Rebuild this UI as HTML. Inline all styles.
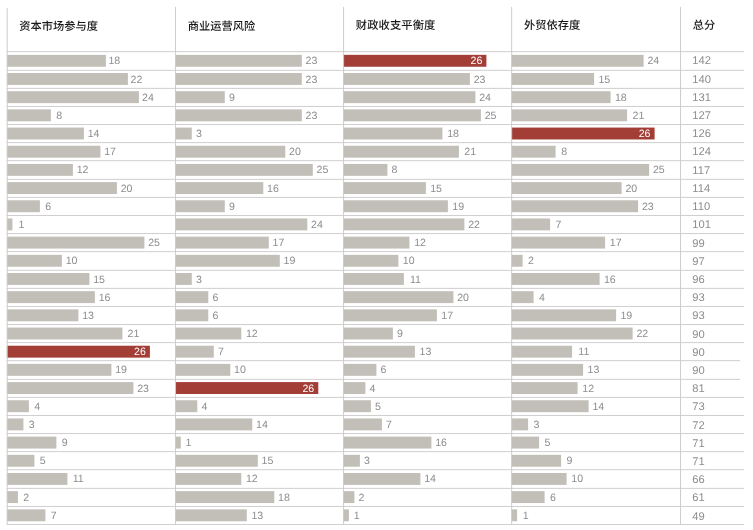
<!DOCTYPE html>
<html lang="zh-CN">
<head>
<meta charset="utf-8">
<title>排名</title>
<style>
html,body{margin:0;padding:0;background:#fff;}
body{width:753px;height:530px;overflow:hidden;}
svg{display:block;}
text{text-rendering:geometricPrecision;}
.n.t{font-size:11.2px;}
.h{font-family:"Liberation Sans","Noto Sans CJK SC",sans-serif;font-size:11.25px;font-weight:500;fill:#1a1a1a;}
.n{font-family:"Liberation Sans","Noto Sans CJK SC",sans-serif;font-size:10.6px;fill:#8d8d8d;}
.w{font-family:"Liberation Sans","Noto Sans CJK SC",sans-serif;font-size:10.6px;fill:#fff;text-anchor:end;}
</style>
</head>
<body>
<svg width="753" height="530" viewBox="0 0 753 530">
<rect x="0" y="0" width="753" height="530" fill="#ffffff"/>
<rect x="6.90" y="54.85" width="99.00" height="11.90" fill="#c2beb8"/>
<rect x="6.90" y="73.03" width="121.00" height="11.90" fill="#c2beb8"/>
<rect x="6.90" y="91.21" width="132.00" height="11.90" fill="#c2beb8"/>
<rect x="6.90" y="109.39" width="44.00" height="11.90" fill="#c2beb8"/>
<rect x="6.90" y="127.57" width="77.00" height="11.90" fill="#c2beb8"/>
<rect x="6.90" y="145.75" width="93.50" height="11.90" fill="#c2beb8"/>
<rect x="6.90" y="163.93" width="66.00" height="11.90" fill="#c2beb8"/>
<rect x="6.90" y="182.11" width="110.00" height="11.90" fill="#c2beb8"/>
<rect x="6.90" y="200.29" width="33.00" height="11.90" fill="#c2beb8"/>
<rect x="6.90" y="218.47" width="5.50" height="11.90" fill="#c2beb8"/>
<rect x="6.90" y="236.65" width="137.50" height="11.90" fill="#c2beb8"/>
<rect x="6.90" y="254.83" width="55.00" height="11.90" fill="#c2beb8"/>
<rect x="6.90" y="273.01" width="82.50" height="11.90" fill="#c2beb8"/>
<rect x="6.90" y="291.19" width="88.00" height="11.90" fill="#c2beb8"/>
<rect x="6.90" y="309.37" width="71.50" height="11.90" fill="#c2beb8"/>
<rect x="6.90" y="327.55" width="115.50" height="11.90" fill="#c2beb8"/>
<rect x="6.90" y="345.73" width="143.00" height="11.90" fill="#a33e37"/>
<rect x="6.90" y="363.91" width="104.50" height="11.90" fill="#c2beb8"/>
<rect x="6.90" y="382.09" width="126.50" height="11.90" fill="#c2beb8"/>
<rect x="6.90" y="400.27" width="22.00" height="11.90" fill="#c2beb8"/>
<rect x="6.90" y="418.45" width="16.50" height="11.90" fill="#c2beb8"/>
<rect x="6.90" y="436.63" width="49.50" height="11.90" fill="#c2beb8"/>
<rect x="6.90" y="454.81" width="27.50" height="11.90" fill="#c2beb8"/>
<rect x="6.90" y="472.99" width="60.50" height="11.90" fill="#c2beb8"/>
<rect x="6.90" y="491.17" width="11.00" height="11.90" fill="#c2beb8"/>
<rect x="6.90" y="509.35" width="38.50" height="11.90" fill="#c2beb8"/>
<rect x="175.28" y="54.85" width="126.50" height="11.90" fill="#c2beb8"/>
<rect x="175.28" y="73.03" width="126.50" height="11.90" fill="#c2beb8"/>
<rect x="175.28" y="91.21" width="49.50" height="11.90" fill="#c2beb8"/>
<rect x="175.28" y="109.39" width="126.50" height="11.90" fill="#c2beb8"/>
<rect x="175.28" y="127.57" width="16.50" height="11.90" fill="#c2beb8"/>
<rect x="175.28" y="145.75" width="110.00" height="11.90" fill="#c2beb8"/>
<rect x="175.28" y="163.93" width="137.50" height="11.90" fill="#c2beb8"/>
<rect x="175.28" y="182.11" width="88.00" height="11.90" fill="#c2beb8"/>
<rect x="175.28" y="200.29" width="49.50" height="11.90" fill="#c2beb8"/>
<rect x="175.28" y="218.47" width="132.00" height="11.90" fill="#c2beb8"/>
<rect x="175.28" y="236.65" width="93.50" height="11.90" fill="#c2beb8"/>
<rect x="175.28" y="254.83" width="104.50" height="11.90" fill="#c2beb8"/>
<rect x="175.28" y="273.01" width="16.50" height="11.90" fill="#c2beb8"/>
<rect x="175.28" y="291.19" width="33.00" height="11.90" fill="#c2beb8"/>
<rect x="175.28" y="309.37" width="33.00" height="11.90" fill="#c2beb8"/>
<rect x="175.28" y="327.55" width="66.00" height="11.90" fill="#c2beb8"/>
<rect x="175.28" y="345.73" width="38.50" height="11.90" fill="#c2beb8"/>
<rect x="175.28" y="363.91" width="55.00" height="11.90" fill="#c2beb8"/>
<rect x="175.28" y="382.09" width="143.00" height="11.90" fill="#a33e37"/>
<rect x="175.28" y="400.27" width="22.00" height="11.90" fill="#c2beb8"/>
<rect x="175.28" y="418.45" width="77.00" height="11.90" fill="#c2beb8"/>
<rect x="175.28" y="436.63" width="5.50" height="11.90" fill="#c2beb8"/>
<rect x="175.28" y="454.81" width="82.50" height="11.90" fill="#c2beb8"/>
<rect x="175.28" y="472.99" width="66.00" height="11.90" fill="#c2beb8"/>
<rect x="175.28" y="491.17" width="99.00" height="11.90" fill="#c2beb8"/>
<rect x="175.28" y="509.35" width="71.50" height="11.90" fill="#c2beb8"/>
<rect x="343.40" y="54.85" width="143.00" height="11.90" fill="#a33e37"/>
<rect x="343.40" y="73.03" width="126.50" height="11.90" fill="#c2beb8"/>
<rect x="343.40" y="91.21" width="132.00" height="11.90" fill="#c2beb8"/>
<rect x="343.40" y="109.39" width="137.50" height="11.90" fill="#c2beb8"/>
<rect x="343.40" y="127.57" width="99.00" height="11.90" fill="#c2beb8"/>
<rect x="343.40" y="145.75" width="115.50" height="11.90" fill="#c2beb8"/>
<rect x="343.40" y="163.93" width="44.00" height="11.90" fill="#c2beb8"/>
<rect x="343.40" y="182.11" width="82.50" height="11.90" fill="#c2beb8"/>
<rect x="343.40" y="200.29" width="104.50" height="11.90" fill="#c2beb8"/>
<rect x="343.40" y="218.47" width="121.00" height="11.90" fill="#c2beb8"/>
<rect x="343.40" y="236.65" width="66.00" height="11.90" fill="#c2beb8"/>
<rect x="343.40" y="254.83" width="55.00" height="11.90" fill="#c2beb8"/>
<rect x="343.40" y="273.01" width="60.50" height="11.90" fill="#c2beb8"/>
<rect x="343.40" y="291.19" width="110.00" height="11.90" fill="#c2beb8"/>
<rect x="343.40" y="309.37" width="93.50" height="11.90" fill="#c2beb8"/>
<rect x="343.40" y="327.55" width="49.50" height="11.90" fill="#c2beb8"/>
<rect x="343.40" y="345.73" width="71.50" height="11.90" fill="#c2beb8"/>
<rect x="343.40" y="363.91" width="33.00" height="11.90" fill="#c2beb8"/>
<rect x="343.40" y="382.09" width="22.00" height="11.90" fill="#c2beb8"/>
<rect x="343.40" y="400.27" width="27.50" height="11.90" fill="#c2beb8"/>
<rect x="343.40" y="418.45" width="38.50" height="11.90" fill="#c2beb8"/>
<rect x="343.40" y="436.63" width="88.00" height="11.90" fill="#c2beb8"/>
<rect x="343.40" y="454.81" width="16.50" height="11.90" fill="#c2beb8"/>
<rect x="343.40" y="472.99" width="77.00" height="11.90" fill="#c2beb8"/>
<rect x="343.40" y="491.17" width="11.00" height="11.90" fill="#c2beb8"/>
<rect x="343.40" y="509.35" width="5.50" height="11.90" fill="#c2beb8"/>
<rect x="511.60" y="54.85" width="132.00" height="11.90" fill="#c2beb8"/>
<rect x="511.60" y="73.03" width="82.50" height="11.90" fill="#c2beb8"/>
<rect x="511.60" y="91.21" width="99.00" height="11.90" fill="#c2beb8"/>
<rect x="511.60" y="109.39" width="115.50" height="11.90" fill="#c2beb8"/>
<rect x="511.60" y="127.57" width="143.00" height="11.90" fill="#a33e37"/>
<rect x="511.60" y="145.75" width="44.00" height="11.90" fill="#c2beb8"/>
<rect x="511.60" y="163.93" width="137.50" height="11.90" fill="#c2beb8"/>
<rect x="511.60" y="182.11" width="110.00" height="11.90" fill="#c2beb8"/>
<rect x="511.60" y="200.29" width="126.50" height="11.90" fill="#c2beb8"/>
<rect x="511.60" y="218.47" width="38.50" height="11.90" fill="#c2beb8"/>
<rect x="511.60" y="236.65" width="93.50" height="11.90" fill="#c2beb8"/>
<rect x="511.60" y="254.83" width="11.00" height="11.90" fill="#c2beb8"/>
<rect x="511.60" y="273.01" width="88.00" height="11.90" fill="#c2beb8"/>
<rect x="511.60" y="291.19" width="22.00" height="11.90" fill="#c2beb8"/>
<rect x="511.60" y="309.37" width="104.50" height="11.90" fill="#c2beb8"/>
<rect x="511.60" y="327.55" width="121.00" height="11.90" fill="#c2beb8"/>
<rect x="511.60" y="345.73" width="60.50" height="11.90" fill="#c2beb8"/>
<rect x="511.60" y="363.91" width="71.50" height="11.90" fill="#c2beb8"/>
<rect x="511.60" y="382.09" width="66.00" height="11.90" fill="#c2beb8"/>
<rect x="511.60" y="400.27" width="77.00" height="11.90" fill="#c2beb8"/>
<rect x="511.60" y="418.45" width="16.50" height="11.90" fill="#c2beb8"/>
<rect x="511.60" y="436.63" width="27.50" height="11.90" fill="#c2beb8"/>
<rect x="511.60" y="454.81" width="49.50" height="11.90" fill="#c2beb8"/>
<rect x="511.60" y="472.99" width="55.00" height="11.90" fill="#c2beb8"/>
<rect x="511.60" y="491.17" width="33.00" height="11.90" fill="#c2beb8"/>
<rect x="511.60" y="509.35" width="5.50" height="11.90" fill="#c2beb8"/>
<rect x="6.70" y="51.14" width="737.30" height="1.00" fill="#cfcfcf"/>
<rect x="6.70" y="69.81" width="737.30" height="1.00" fill="#cfcfcf"/>
<rect x="6.70" y="87.88" width="737.30" height="1.00" fill="#cfcfcf"/>
<rect x="6.70" y="105.96" width="737.30" height="1.00" fill="#cfcfcf"/>
<rect x="6.70" y="124.03" width="737.30" height="1.00" fill="#cfcfcf"/>
<rect x="6.70" y="142.10" width="737.30" height="1.00" fill="#cfcfcf"/>
<rect x="6.70" y="160.17" width="737.30" height="1.00" fill="#cfcfcf"/>
<rect x="6.70" y="178.84" width="737.30" height="1.00" fill="#cfcfcf"/>
<rect x="6.70" y="196.92" width="737.30" height="1.00" fill="#cfcfcf"/>
<rect x="6.70" y="214.99" width="737.30" height="1.00" fill="#cfcfcf"/>
<rect x="6.70" y="233.06" width="737.30" height="1.00" fill="#cfcfcf"/>
<rect x="6.70" y="251.13" width="737.30" height="1.00" fill="#cfcfcf"/>
<rect x="6.70" y="269.80" width="737.30" height="1.00" fill="#cfcfcf"/>
<rect x="6.70" y="287.88" width="737.30" height="1.00" fill="#cfcfcf"/>
<rect x="6.70" y="305.95" width="737.30" height="1.00" fill="#cfcfcf"/>
<rect x="6.70" y="324.02" width="737.30" height="1.00" fill="#cfcfcf"/>
<rect x="6.70" y="342.09" width="737.30" height="1.00" fill="#cfcfcf"/>
<rect x="6.70" y="360.16" width="733.50" height="1.00" fill="#cfcfcf"/>
<rect x="6.70" y="378.84" width="733.50" height="1.00" fill="#cfcfcf"/>
<rect x="6.70" y="396.91" width="737.30" height="1.00" fill="#cfcfcf"/>
<rect x="6.70" y="414.98" width="737.30" height="1.00" fill="#cfcfcf"/>
<rect x="6.70" y="433.05" width="737.30" height="1.00" fill="#cfcfcf"/>
<rect x="6.70" y="451.12" width="737.30" height="1.00" fill="#cfcfcf"/>
<rect x="6.70" y="469.20" width="737.30" height="1.00" fill="#cfcfcf"/>
<rect x="6.70" y="487.87" width="737.30" height="1.00" fill="#cfcfcf"/>
<rect x="6.70" y="505.94" width="737.30" height="1.00" fill="#cfcfcf"/>
<rect x="6.70" y="524.01" width="737.30" height="1.00" fill="#cfcfcf"/>
<rect x="6.70" y="8.20" width="1.00" height="516.83" fill="#cccccc"/>
<rect x="175.03" y="6.90" width="1.00" height="518.13" fill="#cccccc"/>
<rect x="343.08" y="6.90" width="1.00" height="518.13" fill="#cccccc"/>
<rect x="511.16" y="6.90" width="1.00" height="518.13" fill="#cccccc"/>
<rect x="680.03" y="6.90" width="1.00" height="518.13" fill="#cccccc"/>
<text class="h" x="19.30" y="30.10">资本市场参与度</text>
<text class="h" x="187.68" y="30.10">商业运营风险</text>
<text class="h" x="355.80" y="28.60" letter-spacing="0.12">财政收支平衡度</text>
<text class="h" x="524.00" y="28.60">外贸依存度</text>
<text class="h" x="692.67" y="28.60">总分</text>
<text class="n" x="108.40" y="64.35">18</text>
<text class="n" x="130.60" y="82.53">22</text>
<text class="n" x="142.00" y="100.71">24</text>
<text class="n" x="56.30" y="118.89">8</text>
<text class="n" x="87.70" y="137.07">14</text>
<text class="n" x="104.20" y="155.25">17</text>
<text class="n" x="76.70" y="173.43">12</text>
<text class="n" x="120.70" y="191.61">20</text>
<text class="n" x="45.30" y="209.79">6</text>
<text class="n" x="18.60" y="227.97">1</text>
<text class="n" x="148.20" y="246.15">25</text>
<text class="n" x="65.70" y="264.33">10</text>
<text class="n" x="93.20" y="282.51">15</text>
<text class="n" x="98.70" y="300.69">16</text>
<text class="n" x="82.20" y="318.87">13</text>
<text class="n" x="127.60" y="337.05">21</text>
<text class="w" x="145.80" y="355.23">26</text>
<text class="n" x="115.20" y="373.41">19</text>
<text class="n" x="137.20" y="391.59">23</text>
<text class="n" x="34.30" y="409.77">4</text>
<text class="n" x="28.80" y="427.95">3</text>
<text class="n" x="61.80" y="446.13">9</text>
<text class="n" x="39.80" y="464.31">5</text>
<text class="n" x="72.70" y="482.49">11</text>
<text class="n" x="23.30" y="500.67">2</text>
<text class="n" x="50.80" y="518.85">7</text>
<text class="n" x="305.58" y="64.35">23</text>
<text class="n" x="305.58" y="82.53">23</text>
<text class="n" x="228.88" y="100.71">9</text>
<text class="n" x="305.58" y="118.89">23</text>
<text class="n" x="195.88" y="137.07">3</text>
<text class="n" x="289.08" y="155.25">20</text>
<text class="n" x="316.58" y="173.43">25</text>
<text class="n" x="267.08" y="191.61">16</text>
<text class="n" x="228.88" y="209.79">9</text>
<text class="n" x="311.08" y="227.97">24</text>
<text class="n" x="272.58" y="246.15">17</text>
<text class="n" x="283.58" y="264.33">19</text>
<text class="n" x="195.88" y="282.51">3</text>
<text class="n" x="212.38" y="300.69">6</text>
<text class="n" x="212.38" y="318.87">6</text>
<text class="n" x="245.88" y="337.05">12</text>
<text class="n" x="217.88" y="355.23">7</text>
<text class="n" x="234.08" y="373.41">10</text>
<text class="w" x="314.18" y="391.59">26</text>
<text class="n" x="201.38" y="409.77">4</text>
<text class="n" x="256.08" y="427.95">14</text>
<text class="n" x="185.48" y="446.13">1</text>
<text class="n" x="261.58" y="464.31">15</text>
<text class="n" x="245.88" y="482.49">12</text>
<text class="n" x="278.08" y="500.67">18</text>
<text class="n" x="251.38" y="518.85">13</text>
<text class="w" x="482.30" y="64.35">26</text>
<text class="n" x="473.70" y="82.53">23</text>
<text class="n" x="479.20" y="100.71">24</text>
<text class="n" x="484.70" y="118.89">25</text>
<text class="n" x="447.20" y="137.07">18</text>
<text class="n" x="464.30" y="155.25">21</text>
<text class="n" x="391.50" y="173.43">8</text>
<text class="n" x="430.20" y="191.61">15</text>
<text class="n" x="452.30" y="209.79">19</text>
<text class="n" x="468.20" y="227.97">22</text>
<text class="n" x="414.20" y="246.15">12</text>
<text class="n" x="402.80" y="264.33">10</text>
<text class="n" x="410.00" y="282.51">11</text>
<text class="n" x="457.20" y="300.69">20</text>
<text class="n" x="441.30" y="318.87">17</text>
<text class="n" x="397.00" y="337.05">9</text>
<text class="n" x="419.50" y="355.23">13</text>
<text class="n" x="380.50" y="373.41">6</text>
<text class="n" x="369.50" y="391.59">4</text>
<text class="n" x="375.00" y="409.77">5</text>
<text class="n" x="386.00" y="427.95">7</text>
<text class="n" x="435.20" y="446.13">16</text>
<text class="n" x="364.00" y="464.31">3</text>
<text class="n" x="424.20" y="482.49">14</text>
<text class="n" x="358.50" y="500.67">2</text>
<text class="n" x="353.80" y="518.85">1</text>
<text class="n" x="647.40" y="64.35">24</text>
<text class="n" x="598.40" y="82.53">15</text>
<text class="n" x="614.90" y="100.71">18</text>
<text class="n" x="632.50" y="118.89">21</text>
<text class="w" x="650.50" y="137.07">26</text>
<text class="n" x="561.30" y="155.25">8</text>
<text class="n" x="652.90" y="173.43">25</text>
<text class="n" x="625.40" y="191.61">20</text>
<text class="n" x="641.90" y="209.79">23</text>
<text class="n" x="555.50" y="227.97">7</text>
<text class="n" x="609.80" y="246.15">17</text>
<text class="n" x="528.00" y="264.33">2</text>
<text class="n" x="603.90" y="282.51">16</text>
<text class="n" x="539.00" y="300.69">4</text>
<text class="n" x="620.40" y="318.87">19</text>
<text class="n" x="636.40" y="337.05">22</text>
<text class="n" x="578.30" y="355.23">11</text>
<text class="n" x="587.60" y="373.41">13</text>
<text class="n" x="582.30" y="391.59">12</text>
<text class="n" x="592.40" y="409.77">14</text>
<text class="n" x="533.50" y="427.95">3</text>
<text class="n" x="544.50" y="446.13">5</text>
<text class="n" x="566.50" y="464.31">9</text>
<text class="n" x="571.30" y="482.49">10</text>
<text class="n" x="550.00" y="500.67">6</text>
<text class="n" x="522.80" y="518.85">1</text>
<text class="n t" x="692.27" y="64.45">142</text>
<text class="n t" x="692.27" y="82.66">140</text>
<text class="n t" x="692.27" y="100.87">131</text>
<text class="n t" x="692.27" y="119.07">127</text>
<text class="n t" x="692.27" y="137.28">126</text>
<text class="n t" x="692.27" y="155.49">124</text>
<text class="n t" x="692.27" y="173.70">117</text>
<text class="n t" x="692.27" y="191.91">114</text>
<text class="n t" x="692.27" y="210.11">110</text>
<text class="n t" x="692.27" y="228.32">101</text>
<text class="n t" x="692.27" y="246.53">99</text>
<text class="n t" x="692.27" y="264.74">97</text>
<text class="n t" x="692.27" y="282.95">96</text>
<text class="n t" x="692.27" y="301.15">93</text>
<text class="n t" x="692.27" y="319.36">93</text>
<text class="n t" x="692.27" y="337.57">90</text>
<text class="n t" x="692.27" y="355.78">90</text>
<text class="n t" x="692.27" y="373.99">90</text>
<text class="n t" x="692.27" y="392.19">81</text>
<text class="n t" x="692.27" y="410.40">73</text>
<text class="n t" x="692.27" y="428.61">72</text>
<text class="n t" x="692.27" y="446.82">71</text>
<text class="n t" x="692.27" y="465.03">71</text>
<text class="n t" x="692.27" y="483.23">66</text>
<text class="n t" x="692.27" y="501.44">61</text>
<text class="n t" x="692.27" y="519.65">49</text>
</svg>
</body>
</html>
